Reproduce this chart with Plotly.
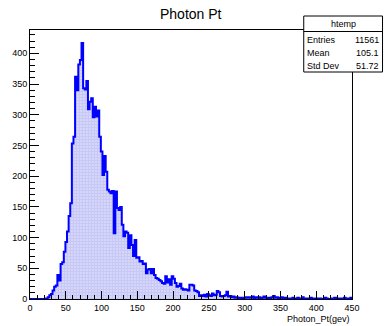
import numpy as np
import plotly.graph_objects as go

# ---------------- data ----------------
x_min, x_max, n_bins = 0.0, 450.0, 200
counts = [
    0, 0, 0, 0, 0, 0, 0, 0, 0, 0,
    1, 3, 6, 8, 14, 20, 22, 39, 30, 57,
    60, 77, 93, 110, 135, 156, 253, 264, 362, 340,
    382, 389, 417, 343, 341, 355, 309, 321, 327, 296,
    313, 297, 307, 264, 240, 202, 233, 207, 178, 175,
    172, 176, 107, 175, 148, 145, 150, 121, 102, 110,
    108, 83, 104, 88, 70, 96, 67, 68, 61, 62,
    57, 58, 42, 48, 49, 42, 49, 39, 34, 33,
    31, 29, 26, 25, 37, 27, 32, 23, 37, 33,
    26, 20, 21, 25, 17, 15, 16, 15, 14, 23,
    23, 22, 14, 13, 11, 5, 6, 5, 7, 4,
    8, 6, 5, 9, 6, 7, 13, 11, 5, 4,
    5, 6, 12, 4, 5, 3, 4, 2, 3, 2,
    1, 2, 1, 2, 3, 2, 3, 2, 4, 1,
    3, 2, 3, 1, 2, 4, 2, 1, 2, 1,
    3, 5, 2, 3, 1, 2, 3, 1, 2, 1,
    1, 0, 1, 2, 0, 1, 2, 0, 1, 3,
    0, 1, 1, 0, 2, 0, 1, 0, 1, 0,
    1, 0, 0, 2, 1, 0, 0, 1, 0, 2,
    0, 1, 0, 1, 0, 2, 0, 1, 1, 2,
]
y_max = 438
x_ticks = [0, 50, 100, 150, 200, 250, 300, 350, 400, 450]
y_ticks = [0, 50, 100, 150, 200, 250, 300, 350, 400]
title_text = "Photon Pt"
x_title = "Photon_Pt(gev)"
stats_name = "htemp"
stats_labels = ["Entries", "Mean", "Std Dev"]
stats_values = ["11561", "105.1", "51.72"]

# ---------------- layout geometry ----------------
W, H = 384, 326
L, R, T, B = 25, 32, 30, 27
PW, PH = W - L - R, H - T - B


def px(xp):
    return (xp - L) / PW


def py(yp):
    return (H - B - yp) / PH


FONT = "Liberation Sans Narrow, Liberation Sans, Arial, sans-serif"

edges = np.linspace(x_min, x_max, n_bins + 1)

fig = go.Figure()
fig.add_trace(go.Scatter(
    x=edges, y=list(counts) + [0],
    mode="lines",
    line=dict(shape="hv", color="#0000ff", width=2),
    fill="tozeroy",
    fillcolor="rgba(0,0,0,0)",
    fillpattern=dict(shape=".", size=3, solidity=0.8,
                     fgcolor="#9c9cf0", bgcolor="#f4f4ff"),
    hoverinfo="skip",
    showlegend=False,
))

axis_common = dict(
    showline=True, linecolor="black", linewidth=1, mirror=True,
    showgrid=False, zeroline=False,
    ticks="inside", tickcolor="black", tickwidth=1,
    tickfont=dict(family=FONT, size=9, color="black"),
)

fig.update_xaxes(range=[x_min, x_max], tickmode="array", tickvals=x_ticks,
                 ticklen=8,
                 minor=dict(ticks="inside", dtick=10, tick0=0, ticklen=4,
                            tickcolor="black", tickwidth=1),
                 **axis_common)
fig.update_yaxes(range=[0, y_max], tickmode="array", tickvals=y_ticks,
                 ticklen=9,
                 minor=dict(ticks="inside", dtick=10, tick0=0, ticklen=5,
                            tickcolor="black", tickwidth=1),
                 **axis_common)

annotations = [
    dict(text=title_text, xref="paper", yref="paper", x=0.5, y=py(14),
         xanchor="center", yanchor="middle", showarrow=False,
         font=dict(family=FONT, size=14, color="black")),
    dict(text=x_title, xref="paper", yref="paper", x=1.0, y=py(319),
         xanchor="right", yanchor="middle", showarrow=False,
         font=dict(family=FONT, size=9, color="black")),
    dict(text=stats_name, xref="paper", yref="paper", x=px(343), y=py(24),
         xanchor="center", yanchor="middle", showarrow=False,
         font=dict(family=FONT, size=9, color="black")),
]
row_y = [40, 53, 66]
for lab, val, yy in zip(stats_labels, stats_values, row_y):
    annotations.append(dict(text=lab, xref="paper", yref="paper", x=px(304),
                            y=py(yy), xanchor="left", yanchor="middle",
                            showarrow=False,
                            font=dict(family=FONT, size=9, color="black")))
    annotations.append(dict(text=val, xref="paper", yref="paper", x=px(381.5),
                            y=py(yy), xanchor="right", yanchor="middle",
                            showarrow=False,
                            font=dict(family=FONT, size=9, color="black")))

shapes = [
    dict(type="rect", xref="paper", yref="paper", x0=px(303), x1=px(383),
         y0=py(72), y1=py(16), fillcolor="white",
         line=dict(color="black", width=1), layer="above"),
    dict(type="line", xref="paper", yref="paper", x0=px(303), x1=px(383),
         y0=py(31.5), y1=py(31.5), line=dict(color="black", width=1),
         layer="above"),
]

fig.update_layout(
    width=W, height=H,
    margin=dict(l=L, r=R, t=T, b=B, pad=0),
    paper_bgcolor="white", plot_bgcolor="white",
    annotations=annotations, shapes=shapes,
    showlegend=False,
)

fig.write_html("out.html", config={"displayModeBar": False})
